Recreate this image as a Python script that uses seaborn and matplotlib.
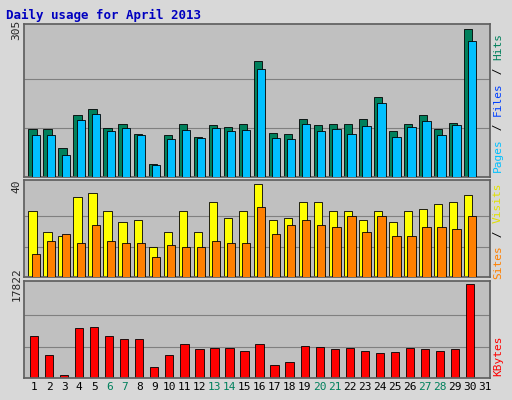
import numpy as np
import matplotlib
matplotlib.use("Agg")
import matplotlib.pyplot as plt
import seaborn as sns

days = list(range(1, 32))
hits = [99,99,61,128,141,101,109,90,27,88,109,82,107,103,109,240,92,90,120,107,109,109,120,166,95,109,128,99,111,307,0]
files = [88,86,46,118,130,95,101,88,25,78,97,80,101,95,97,223,80,78,109,95,99,90,105,153,82,103,116,88,107,281,0]
visits = [29,20,18,35,37,29,24,25,13,20,29,20,33,26,29,41,25,26,33,33,29,29,25,29,24,29,30,32,33,36,0]
sites = [10,16,19,15,23,16,15,15,9,14,13,13,16,15,15,31,19,23,25,23,22,27,20,27,18,18,22,22,21,27,0]
kbytes = [7940,4450,580,9490,9680,7940,7360,7360,2130,4450,6390,5420,5620,5620,5040,6390,2520,3100,6000,5810,5420,5620,5040,4650,4840,5620,5420,5040,5420,17822,0]
weekend = [6,7,13,14,20,21,27,28]

sns.set_theme(style="white")
plt.rcParams['font.family'] = ['DejaVu Sans Mono', 'DejaVu Sans']

fig = plt.figure(figsize=(5.12, 4.0), dpi=100, facecolor="#d8d8d8")
L, W = 24/512, 466/512
axes = [fig.add_axes([L, 1-177/400, W, 153/400]),
        fig.add_axes([L, 1-277/400, W, 97/400]),
        fig.add_axes([L, 1-378/400, W, 97/400])]
x = np.array(days, dtype=float)
bw, off = 0.55, 0.22

def style(ax, ymax, top):
    ax.set_facecolor("#c0c0c0")
    ax.set_xlim(0.33, 31.33)
    ax.set_ylim(0, top)
    for k in (1, 2):
        ax.axhline(ymax*k/3, color="#808080", lw=0.8, zorder=0)
    ax.set_yticks([ymax])
    ax.set_yticklabels([f"{ymax}"], rotation=90, va="center", fontsize=8)
    ax.tick_params(axis="y", length=0, pad=2)
    ax.set_xticks([])
    for s in ax.spines.values():
        s.set_color("#606060")

a = axes[0]
a.bar(x - off/2, hits, width=bw, color="#00805c", edgecolor="black", lw=0.6, zorder=2)
a.bar(x + off/2, files, width=bw, color="#00c0ff", edgecolor="black", lw=0.6, zorder=3)
style(a, 305, 317)
a = axes[1]
a.bar(x - off/2, visits, width=bw, color="#ffff00", edgecolor="black", lw=0.6, zorder=2)
a.bar(x + off/2, sites, width=bw, color="#ff8000", edgecolor="black", lw=0.6, zorder=3)
style(a, 40, 42.7)
a = axes[2]
a.bar(x, kbytes, width=bw, color="#ff0000", edgecolor="black", lw=0.6, zorder=2)
style(a, 17822, 18403)
a.set_xticks(days)
a.set_xticklabels([str(d) for d in days], fontsize=8)
for t, d in zip(a.get_xticklabels(), days):
    t.set_color("#00805c" if d in weekend else "black")
a.tick_params(axis="x", length=0, pad=3)

fig.text(6/512, 1-15/400, "Daily usage for April 2013", color="#0000c0",
         fontsize=9, fontweight="bold", va="center")

def vlabel(xp, yc, parts):
    total = sum(len(p) for p, _ in parts)
    ch = 7.0/400
    y = yc - total*ch/2
    for p, c in parts:
        fig.text(xp, y, p, color=c, rotation=90, fontsize=8, va="bottom", ha="center")
        y += len(p)*ch

vlabel(498/512, 1-102/400, [("Pages", "#00c0ff"), (" / ", "black"), ("Files", "#0040ff"), (" / ", "black"), ("Hits", "#00805c")])
vlabel(498/512, 1-230/400, [("Sites", "#ff8000"), (" / ", "black"), ("Visits", "#e0e000")])
vlabel(498/512, 1-355/400, [("KBytes", "#ff0000")])

fig.savefig("out.png", dpi=100, facecolor=fig.get_facecolor())
